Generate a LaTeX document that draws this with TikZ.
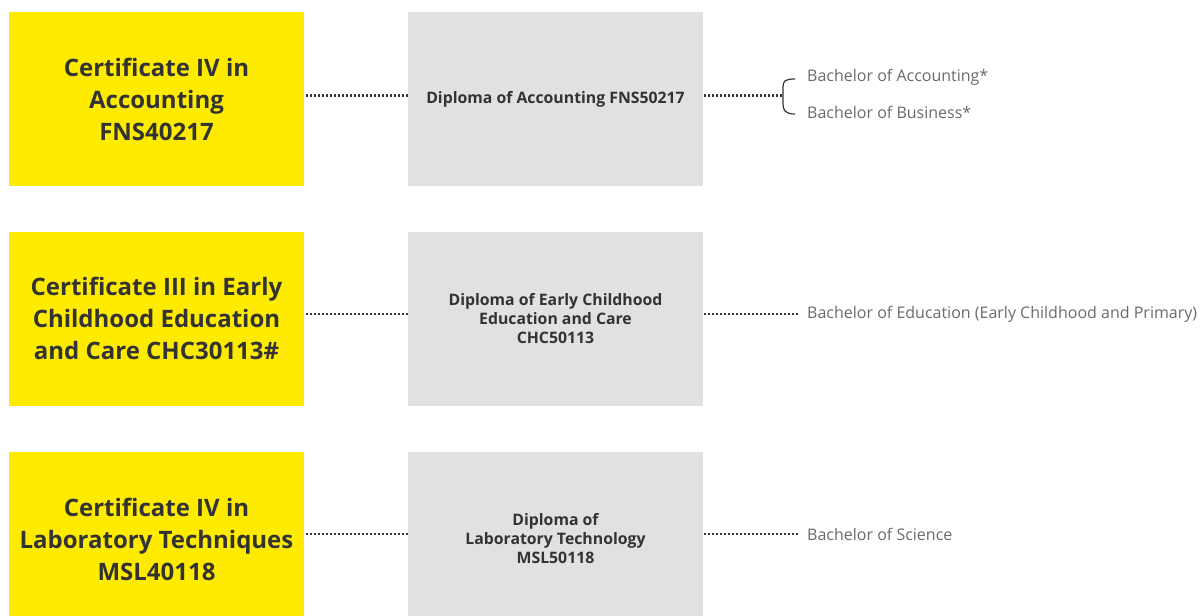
\documentclass[tikz,border=0pt]{standalone}
\usepackage{fontspec}
\setmainfont{Open Sans}
\definecolor{ybox}{HTML}{FFEB00}
\definecolor{gbox}{HTML}{E1E1E3}
\definecolor{darktext}{HTML}{333333}
\definecolor{lighttext}{HTML}{6A6A6A}
\definecolor{dotcol}{HTML}{34343F}
\tikzset{
  yellowbox/.style={fill=ybox, draw=none, minimum width=295pt, minimum height=174pt, inner sep=0pt,
    align=center, text=darktext, font=\fontsize{24}{32}\selectfont\bfseries},
  greybox/.style={fill=gbox, draw=none, minimum width=295pt, minimum height=174pt, inner sep=0pt,
    align=center, text=darktext, font=\fontsize{15.8}{19}\selectfont\bfseries},
  bachelor/.style={anchor=west, inner sep=0pt, text=lighttext, font=\fontsize{16}{18}\selectfont},
  dotline/.style={draw=dotcol, line width=2.1pt, dash pattern=on 2pt off 2pt},
  bracketline/.style={draw=darktext, line width=1.2pt}
}
\begin{document}
\begin{tikzpicture}[x=1pt,y=-1pt]
\useasboundingbox (0,0) rectangle (1203,616);
\clip (0,0) rectangle (1203,616);
% row 1
\node[yellowbox] (y1) at (156.5,99) {Certificate IV in\\Accounting\\FNS40217};
\node[greybox] (g1) at (555.5,99) {Diploma of Accounting FNS50217};
\node[bachelor] (b1a) at (807,77.5) {Bachelor of Accounting*};
\node[bachelor] (b1b) at (807,112.5) {Bachelor of Business*};
\coordinate (br) at (783,95.5);
\draw[dotline] ([yshift=3.5pt,xshift=2pt]y1.east) -- ([yshift=3.5pt]g1.west);
\draw[dotline] ([yshift=3.5pt,xshift=1pt]g1.east) -- (br);
\draw[bracketline] (795,79) .. controls (785,79) and (783,81) .. (783,87) -- (br) -- (783,104) .. controls (783,110) and (785,114) .. (795,114);
% row 2
\node[yellowbox] (y2) at (156.5,318.5) {Certificate III in Early\\Childhood Education\\and Care CHC30113\#};
\node[greybox] (g2) at (555.5,318.5) {Diploma of Early Childhood\\Education and Care\\CHC50113};
\node[bachelor] (b2) at (807,314) {Bachelor of Education (Early Childhood and Primary)};
\draw[dotline] ([yshift=4.5pt,xshift=2pt]y2.east) -- ([yshift=4.5pt]g2.west);
\draw[dotline] ([yshift=4.5pt,xshift=1pt]g2.east) -- ([xshift=-9pt]b2.west);
% row 3
\node[yellowbox] (y3) at (156.5,539) {Certificate IV in\\Laboratory Techniques\\MSL40118};
\node[greybox] (g3) at (555.5,539) {Diploma of\\Laboratory Technology\\MSL50118};
\node[bachelor] (b3) at (807,534) {Bachelor of Science};
\draw[dotline] ([yshift=5pt,xshift=2pt]y3.east) -- ([yshift=5pt]g3.west);
\draw[dotline] ([yshift=5pt,xshift=1pt]g3.east) -- ([xshift=-9pt]b3.west);
\end{tikzpicture}
\end{document}
